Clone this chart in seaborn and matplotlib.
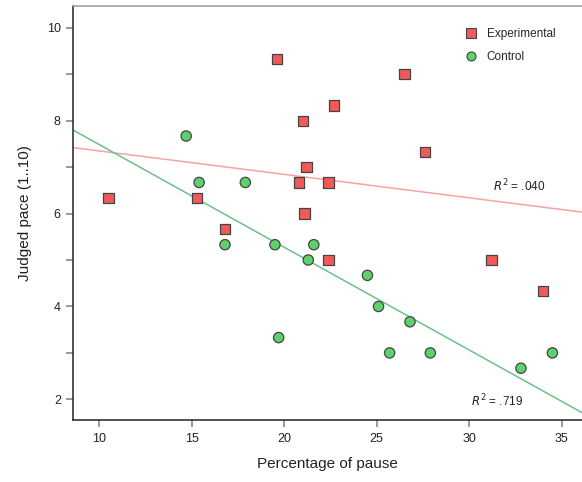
import numpy as np
import pandas as pd
import matplotlib
matplotlib.use("Agg")
import matplotlib.pyplot as plt
import seaborn as sns
from matplotlib.lines import Line2D

exp_x = [19.6, 26.5, 22.7, 21.0, 27.6, 21.2, 20.8, 22.4, 10.5, 15.3, 21.1, 16.8, 22.4, 31.2, 34.0]
exp_y = [9.33, 9.0, 8.33, 8.0, 7.33, 7.0, 6.67, 6.67, 6.33, 6.33, 6.0, 5.67, 5.0, 5.0, 4.33]
ctl_x = [14.7, 15.4, 17.9, 16.8, 19.5, 21.6, 21.3, 24.5, 25.1, 26.8, 19.7, 25.7, 27.9, 34.5, 32.8]
ctl_y = [7.67, 6.67, 6.67, 5.33, 5.33, 5.33, 5.0, 4.67, 4.0, 3.67, 3.33, 3.0, 3.0, 3.0, 2.67]
groups = ["Experimental", "Control"]
r2_labels = [".040", ".719"]

df = pd.DataFrame({
    "x": exp_x + ctl_x,
    "y": exp_y + ctl_y,
    "group": [groups[0]] * len(exp_x) + [groups[1]] * len(ctl_x),
})

sns.set_style("white")
plt.rcParams['font.family'] = ['Liberation Sans', 'DejaVu Sans']

fig = plt.figure(figsize=(5.82, 4.82), dpi=100)
ax = fig.add_axes([0.126, 0.1286, 0.874, 0.859])
XL = (8.6, 36.1)
YL = (1.555, 10.47)
ax.set_xlim(*XL)
ax.set_ylim(*YL)

line_cols = {"Experimental": "#F7A3A3", "Control": "#6CC08A"}
fill_cols = {"Experimental": "#F25A5A", "Control": "#5ED16E"}

for g in groups:
    sub = df[df.group == g]
    sns.regplot(data=sub, x="x", y="y", scatter=False, ci=None, truncate=False,
                ax=ax, line_kws=dict(color=line_cols[g], lw=1.1, zorder=1))
ax.set_xlim(*XL)
ax.set_ylim(*YL)

sns.scatterplot(data=df, x="x", y="y", hue="group", style="group",
                markers={"Experimental": "s", "Control": "o"},
                palette=fill_cols, s=55, edgecolor="#444444", linewidth=0.9,
                ax=ax, zorder=3, legend=False)

handles = [Line2D([], [], marker="s", ls="", markersize=6.5, markerfacecolor=fill_cols[groups[0]],
                  markeredgecolor="#444444", markeredgewidth=0.8, label=groups[0]),
           Line2D([], [], marker="o", ls="", markersize=6.5, markerfacecolor=fill_cols[groups[1]],
                  markeredgecolor="#444444", markeredgewidth=0.8, label=groups[1])]
leg = ax.legend(handles=handles, loc="upper left", bbox_to_anchor=(0.759, 0.958), frameon=False,
                fontsize=8.5, handletextpad=0.7, labelspacing=0.95, borderaxespad=0.0,
                handlelength=1.2)

ax.text(0.928, 0.566, r"$R^2$ = " + r2_labels[0], transform=ax.transAxes, fontsize=8.5,
        ha="right", va="center", color="#222222")
ax.text(0.885, 0.047, r"$R^2$ = " + r2_labels[1], transform=ax.transAxes, fontsize=8.5,
        ha="right", va="center", color="#222222")

ax.set_xticks([10, 15, 20, 25, 30, 35])
ax.set_yticks([2, 4, 6, 8, 10])
ax.set_yticks([3, 5, 7, 9], minor=True)
ax.tick_params(axis="both", which="both", direction="out", length=5, width=1.2,
               color="#888888", labelsize=9, labelcolor="#222222", pad=4)
ax.tick_params(bottom=True, left=True)
ax.tick_params(axis="y", which="minor", left=True, length=5)

for side in ("left", "bottom"):
    ax.spines[side].set_color("#222222")
    ax.spines[side].set_linewidth(1.1)
ax.spines["top"].set_color("#999999")
ax.spines["top"].set_linewidth(1.1)
ax.spines["right"].set_visible(False)

ax.set_xlabel("Percentage of pause", fontsize=11, labelpad=9, color="#222222")
ax.set_ylabel("Judged pace (1..10)", fontsize=11, labelpad=11, color="#222222")

fig.savefig("out.png", dpi=100)
